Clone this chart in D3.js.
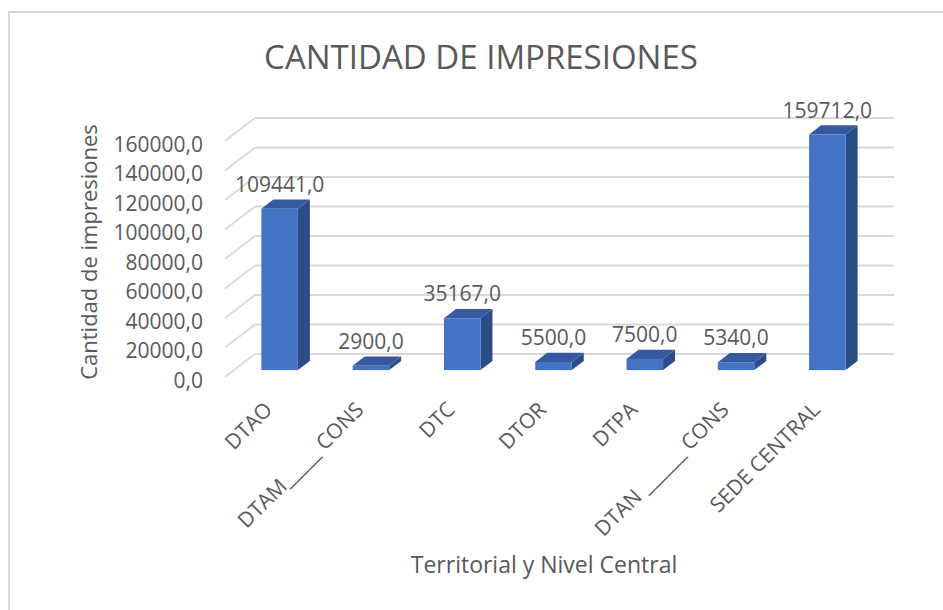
<!DOCTYPE html>
<html>
<head>
<meta charset="utf-8">
<script src="https://d3js.org/d3.v7.min.js"></script>
<style>
  html, body { margin: 0; padding: 0; background: #fff; }
  svg { display: block; }
  text { font-family: "Open Sans", sans-serif; fill: #595959; }
</style>
</head>
<body>
<svg id="chart" width="943" height="610"></svg>
<script>
// ---- data ----
const categories = ["DTAO", "DTAM_____ CONS", "DTC", "DTOR", "DTPA", "DTAN ______ CONS", "SEDE CENTRAL"];
const values = [109441, 2900, 35167, 5500, 7500, 5340, 159712];
const tickValues = [0, 20000, 40000, 60000, 80000, 100000, 120000, 140000, 160000];
const titleText = "CANTIDAD DE IMPRESIONES";
const yTitleText = "Cantidad de impresiones";
const xTitleText = "Territorial y Nivel Central";

const svg = d3.select("#chart");
const W = 943, H = 610;

// chart border (left & top visible)
svg.append("line").attr("x1", 9).attr("x2", 9).attr("y1", 12).attr("y2", H)
  .attr("stroke", "#d9d9d9").attr("stroke-width", 2);
svg.append("line").attr("x1", 8).attr("x2", W).attr("y1", 12).attr("y2", 12)
  .attr("stroke", "#d9d9d9").attr("stroke-width", 2);

// 3D geometry
const depthDX = 30, depthDY = -23;      // front -> back offset
const barF0 = 0.3, barF1 = 0.7;          // bar depth span (fraction)
const y = d3.scaleLinear().domain([0, 160000]).range([377, 141]);
const x = d3.scaleBand().domain(categories).range([225, 864]).paddingInner(0.6).paddingOuter(0.3);

const fmt = v => d3.format(".1f")(v).replace(".", ",");

// gridlines: back wall + left side wall
const grid = svg.append("g");
tickValues.forEach(t => {
  const yf = y(t), yb = y(t) + depthDY;
  grid.append("line").attr("x1", 225 + depthDX).attr("x2", 864 + depthDX)
    .attr("y1", yb).attr("y2", yb).attr("stroke", "#d9d9d9").attr("stroke-width", 2);
  grid.append("line").attr("x1", 225).attr("y1", yf).attr("x2", 225 + depthDX).attr("y2", yb)
    .attr("stroke", "#d9d9d9").attr("stroke-width", 2);
});

// y tick labels
svg.append("g").selectAll("text").data(tickValues).join("text")
  .attr("x", 203).attr("y", d => y(d) + 10.5)
  .attr("text-anchor", "end").attr("font-size", 21)
  .text(d => fmt(d));

// bars
const bars = svg.append("g");
values.forEach((v, i) => {
  const c = categories[i];
  const bw = x.bandwidth();
  const x0 = x(c) + barF0 * depthDX, x1 = x0 + bw;
  const yb0 = y(0) + barF0 * depthDY, yt0 = y(v) + barF0 * depthDY;
  const ddx = (barF1 - barF0) * depthDX, ddy = (barF1 - barF0) * depthDY;
  // side
  bars.append("polygon")
    .attr("points", [[x1, yt0], [x1 + ddx, yt0 + ddy], [x1 + ddx, yb0 + ddy], [x1, yb0]].join(" "))
    .attr("fill", "#2c4c88");
  // top
  bars.append("polygon")
    .attr("points", [[x0, yt0], [x0 + ddx, yt0 + ddy], [x1 + ddx, yt0 + ddy], [x1, yt0]].join(" "))
    .attr("fill", "#3659a0");
  // front
  bars.append("rect").attr("x", x0).attr("y", yt0).attr("width", bw).attr("height", yb0 - yt0)
    .attr("fill", "#4472c4");
  // value label
  svg.append("text").attr("x", x0 + bw / 2).attr("y", yt0 - 17)
    .attr("text-anchor", "middle").attr("font-size", 21).attr("fill", "#404040")
    .text(fmt(v));
});

// category labels
svg.append("g").selectAll("text").data(categories).join("text")
  .attr("text-anchor", "end").attr("font-size", 21)
  .attr("transform", d => `translate(${x(d) + x.bandwidth() / 2 + barF0 * depthDX - 6},411) rotate(-45)`)
  .text(d => d);

// title
svg.append("text").attr("x", 481).attr("y", 69).attr("text-anchor", "middle")
  .attr("font-size", 33).text(titleText);

// axis titles
svg.append("text").attr("transform", "translate(97,252) rotate(-90)")
  .attr("text-anchor", "middle").attr("font-size", 22).text(yTitleText);
svg.append("text").attr("x", 544).attr("y", 573).attr("text-anchor", "middle")
  .attr("font-size", 23).text(xTitleText);
</script>
</body>
</html>
